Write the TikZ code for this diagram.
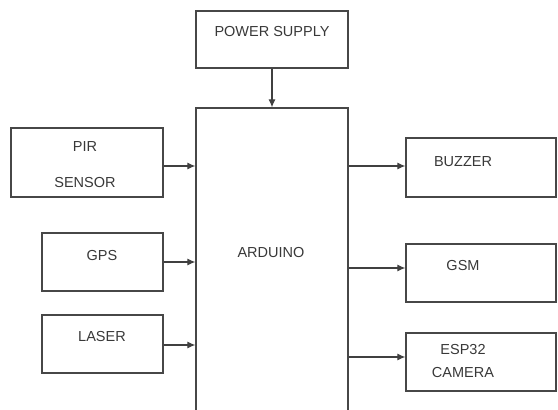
\documentclass[tikz,border=0pt]{standalone}
\usepackage{fontspec}
\setmainfont{Liberation Sans}
\usetikzlibrary{arrows.meta}
\begin{document}
\begin{tikzpicture}[x=1pt,y=-1pt,
  blk/.style={draw=black!72,line width=1.3pt,inner sep=0pt},
  lbl/.style={font=\fontsize{14.5}{17}\selectfont,text=black!78,inner sep=0pt},
  conn/.style={draw=black!75,line width=1.1pt,-{Latex[length=8pt,width=7pt]}}]
\useasboundingbox (0,0) rectangle (558,410);
\clip (0,0) rectangle (558,410);
% boxes
\node[blk,minimum width=152pt,minimum height=57pt] (ps) at (272,39.5) {};
\node[blk,minimum width=152pt,minimum height=306pt] (ard) at (272,261) {};
\node[blk,minimum width=152pt,minimum height=69pt] (pir) at (87,162.5) {};
\node[blk,minimum width=121pt,minimum height=58pt] (gps) at (102.5,262) {};
\node[blk,minimum width=121pt,minimum height=58pt] (las) at (102.5,344) {};
\node[blk,minimum width=150pt,minimum height=59pt] (buz) at (481,167.5) {};
\node[blk,minimum width=150pt,minimum height=58pt] (gsm) at (481,273) {};
\node[blk,minimum width=150pt,minimum height=58pt] (esp) at (481,362) {};
% texts
\node[lbl] (tps) at (272,32) {POWER SUPPLY};
\node[lbl] (tard) at (271,253) {ARDUINO};
\node[lbl] (tpir1) at (85,147) {PIR};
\node[lbl] (tpir2) at (85,183) {SENSOR};
\node[lbl] (tgps) at (102,256) {GPS};
\node[lbl] (tlas) at (102,337) {LASER};
\node[lbl] (tbuz) at (463,162) {BUZZER};
\node[lbl] (tgsm) at (463,266) {GSM};
\node[lbl] (tesp1) at (463,350) {ESP32};
\node[lbl] (tesp2) at (463,373) {CAMERA};
% connectors
\draw[conn] (ps.south) -- (ard.north);
\draw[conn] (pir.east |- 0,166) -- (ard.west |- 0,166);
\draw[conn] (gps.east |- 0,262) -- (ard.west |- 0,262);
\draw[conn] (las.east |- 0,345) -- (ard.west |- 0,345);
\draw[conn] (ard.east |- 0,166) -- (buz.west |- 0,166);
\draw[conn] (ard.east |- 0,268) -- (gsm.west |- 0,268);
\draw[conn] (ard.east |- 0,357) -- (esp.west |- 0,357);
\end{tikzpicture}
\end{document}
